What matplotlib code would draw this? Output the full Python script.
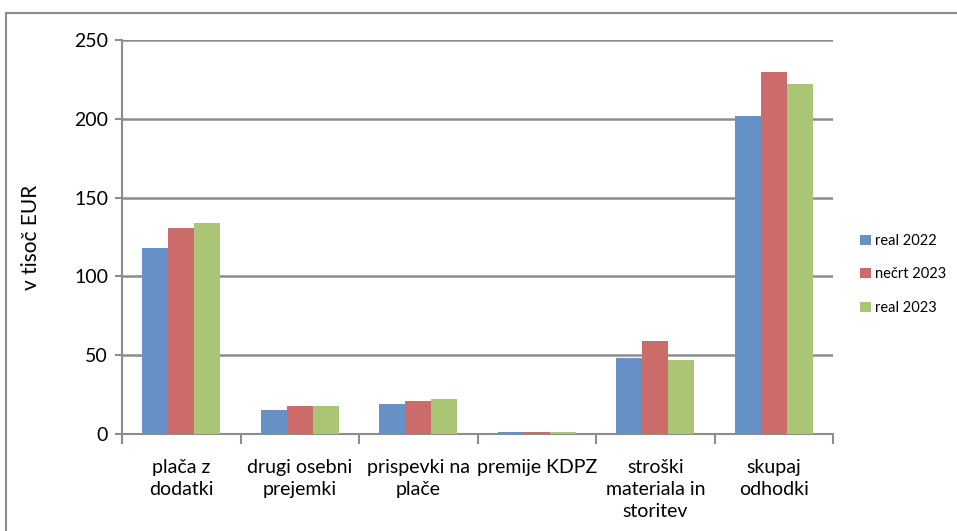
import numpy as np
import matplotlib.pyplot as plt
from matplotlib.patches import Rectangle

# data (v tisoč EUR)
categories = ['plača z\ndodatki', 'drugi osebni\nprejemki', 'prispevki na\nplače',
              'premije KDPZ', 'stroški\nmateriala in\nstoritev', 'skupaj\nodhodki']
real_2022 = [118, 15.5, 19, 1.2, 48, 202]
nacrt_2023 = [131, 18, 21, 1.2, 59, 230]
real_2023 = [134, 18, 22, 1.2, 47, 222]
series_names = ['real 2022', 'nečrt 2023', 'real 2023']
colors = ['#6591c7', '#cb6c6a', '#aac674']
yticks = [0, 50, 100, 150, 200, 250]

plt.rcParams['font.family'] = ['Lato', 'DejaVu Sans']

fig = plt.figure(figsize=(9.57, 5.31), dpi=100)
fig.patches.append(Rectangle((6 / 957, -0.1), 1.2, 1 - 13 / 531 + 0.1,
                             transform=fig.transFigure, fill=False,
                             edgecolor='#8c8c8c', linewidth=1.5))
ax = fig.add_axes([122 / 957, 1 - 434 / 531, 711 / 957, 394 / 531])

x = np.arange(len(categories))
w = 0.22
for i, vals in enumerate([real_2022, nacrt_2023, real_2023]):
    ax.bar(x + (i - 1) * w, vals, width=w, color=colors[i], label=series_names[i],
           zorder=3)

ax.set_xlim(-0.5, len(categories) - 0.5)
ax.set_ylim(0, 250)
ax.set_yticks(yticks)
ax.tick_params(axis='y', labelsize=14, length=5, color='#8c8c8c', width=1.5, pad=5)
ax.set_xticks(x)
ax.set_xticklabels(categories, fontsize=14, linespacing=1.35)
ax.tick_params(axis='x', length=0, pad=18)
ax.set_xticks(np.arange(-0.5, len(categories)), minor=True)
ax.tick_params(axis='x', which='minor', length=7, color='#8c8c8c', width=1.5)
ax.grid(axis='y', color='#8c8c8c', linewidth=1.8, zorder=0)
for s in ['top', 'right']:
    ax.spines[s].set_visible(False)
for s in ['left', 'bottom']:
    ax.spines[s].set_color('#8c8c8c')
    ax.spines[s].set_linewidth(1.5)
ax.set_ylabel('v tisoč EUR', fontsize=15, labelpad=24)

leg = ax.legend(loc='center left', bbox_to_anchor=(1.02, 0.405), frameon=False,
                fontsize=10.5, handlelength=0.7, handleheight=0.7, handletextpad=0.3,
                labelspacing=1.35)

fig.savefig('out.png', dpi=100)
